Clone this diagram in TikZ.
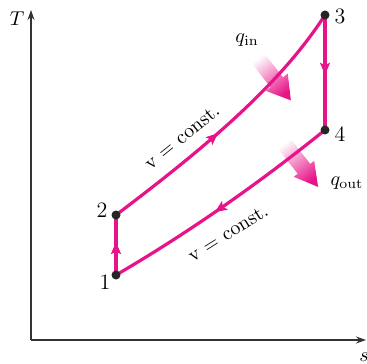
\documentclass[tikz,border=0pt]{standalone}
\usetikzlibrary{arrows.meta,decorations.markings}

\definecolor{cyclepink}{RGB}{231,19,137}
\tikzset{
  cycleline/.style={line width=1.6pt, cyclepink},
  axisline/.style={line width=0.6pt, black!80, -{Stealth[length=5pt,width=3.5pt]}},
  midarrow/.style={postaction={decorate},
    decoration={markings, mark=at position #1 with {\arrow{Stealth[length=6pt,width=5pt,inset=1.2pt]}}}},
  statedot/.style={circle, fill=black!85, inner sep=0pt, minimum size=4.5pt},
  statelabel/.style={font=\fontsize{11}{13}\selectfont},
  heatarrow/.style={top color=white, bottom color=cyclepink, shading angle=#1},
}

\begin{document}
\begin{tikzpicture}[x=0.5pt,y=-0.5pt]
  \useasboundingbox (0,0) rectangle (367,363);
  % axes
  \coordinate (o) at (31,340);
  \coordinate (ttop) at (31,10);
  \coordinate (send) at (366,340);
  \draw[axisline] (o) -- (ttop);
  \draw[axisline] (o) -- (send);
  \node (tlab) at (17,19) {$T$};
  \node (slab) at (364,357) {$s$};

  % heat in and out
  \begin{scope}[shift={(257,57)}, rotate=-52]
    \shade[heatarrow=38] (0,-8) -- (32,-8) -- (32,-14) -- (55,0) -- (32,14) -- (32,8) -- (0,8) -- cycle;
  \end{scope}
  \begin{scope}[shift={(283,142)}, rotate=-52]
    \shade[heatarrow=38] (0,-8) -- (34,-8) -- (34,-13) -- (57,0) -- (34,13) -- (34,8) -- (0,8) -- cycle;
  \end{scope}
  \node (qin) at (247,40) {$q_{\mathrm{in}}$};
  \node (qout) at (347,183) {$q_{\mathrm{out}}$};

  % the cycle
  \coordinate (p1) at (116,275);
  \coordinate (p2) at (116,215);
  \coordinate (p3) at (325,15);
  \coordinate (p4) at (325,130);
  \draw[cycleline, midarrow=0.55] (p1) -- (p2);
  \draw[cycleline, midarrow=0.45] (p2) .. controls (206,147) and (280,85) .. (p3);
  \draw[cycleline, midarrow=0.52] (p3) -- (p4);
  \draw[cycleline, midarrow=0.54] (p4) .. controls (258,184) and (188,233) .. (p1);
  \node[statedot] (d1) at (p1) {};
  \node[statedot] (d2) at (p2) {};
  \node[statedot] (d3) at (p3) {};
  \node[statedot] (d4) at (p4) {};
  \node[statelabel] (l1) at (105,282) {1};
  \node[statelabel] (l2) at (102,210) {2};
  \node[statelabel] (l3) at (340,16) {3};
  \node[statelabel] (l4) at (340,134) {4};

  \node[rotate=39] (vup) at (182,137) {v = const.};
  \node[rotate=32] (vlow) at (228,233) {v = const.};
\end{tikzpicture}
\end{document}
